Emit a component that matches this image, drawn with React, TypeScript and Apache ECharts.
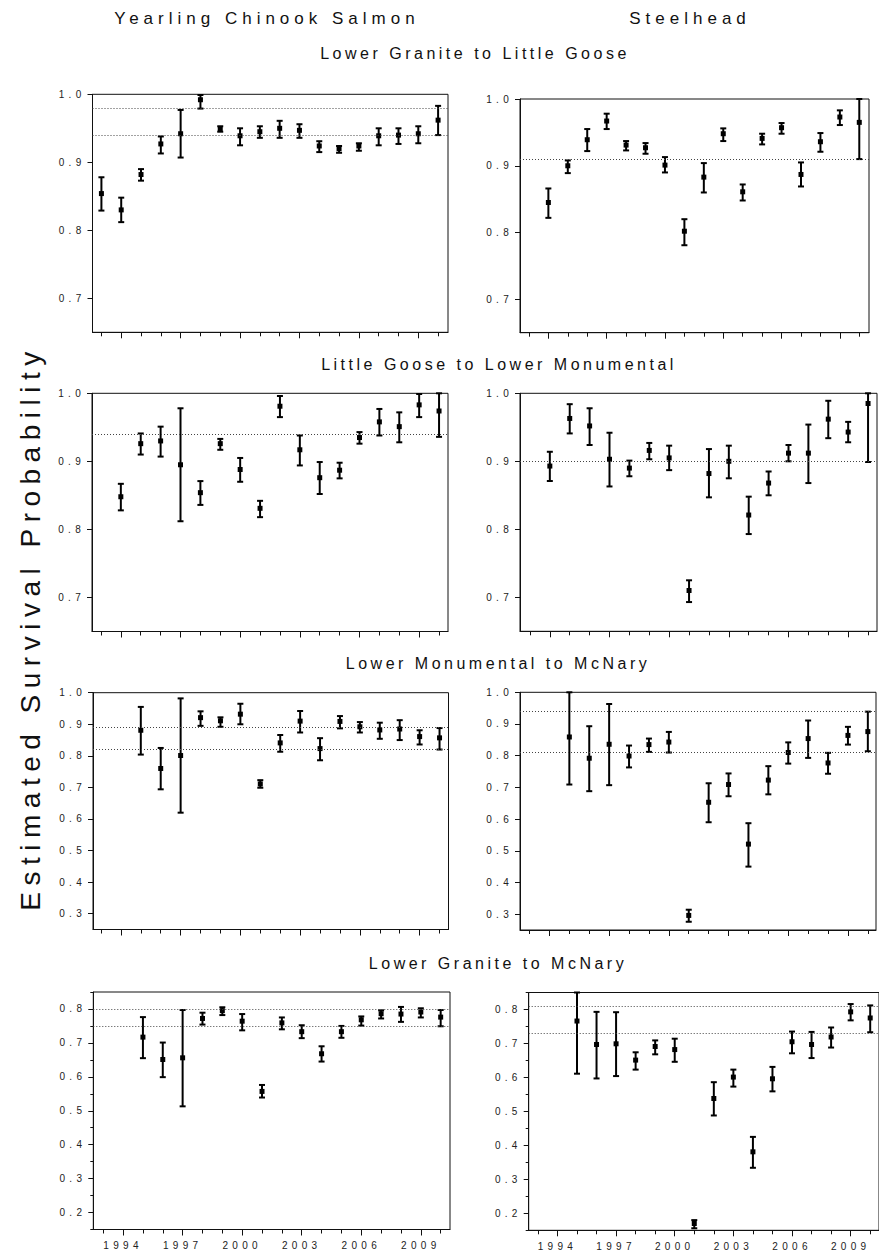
import React, { useEffect, useRef } from "react";
import * as echarts from "echarts";

// ---------- categories / ticks ----------
const YEARS_1993 = [1993, 1994, 1995, 1996, 1997, 1998, 1999, 2000, 2001, 2002, 2003, 2004, 2005, 2006, 2007, 2008, 2009, 2010];
const YEARS_1994 = [1994, 1995, 1996, 1997, 1998, 1999, 2000, 2001, 2002, 2003, 2004, 2005, 2006, 2007, 2008, 2009, 2010];
const YEARS_1995 = [1995, 1996, 1997, 1998, 1999, 2000, 2001, 2002, 2003, 2004, 2005, 2006, 2007, 2008, 2009, 2010];
const X_TICK_YEARS = YEARS_1993;
const X_LABEL_YEARS = [1994, 1997, 2000, 2003, 2006, 2009];

const Y_TICKS_TOP = [0.7, 0.8, 0.9, 1.0];
const Y_TICKS_MID = [0.3, 0.4, 0.5, 0.6, 0.7, 0.8, 0.9, 1.0];
const Y_TICKS_LOW = [0.2, 0.3, 0.4, 0.5, 0.6, 0.7, 0.8];
const Y_MINOR_LOW = [0.15, 0.25, 0.35, 0.45, 0.55, 0.65, 0.75, 0.85];

// ---------- titles ----------
const COLUMN_TITLES = ["Yearling Chinook Salmon", "Steelhead"];
const REACH_TITLES = [
  "Lower Granite to Little Goose",
  "Little Goose to Lower Monumental",
  "Lower Monumental to McNary",
  "Lower Granite to McNary",
];
const Y_TITLE = "Estimated Survival Probability";

// ---------- Lower Granite to Little Goose ----------
const chLgrLgoEst = [0.854, 0.830, 0.882, 0.927, 0.942, 0.992, 0.949, 0.939, 0.945, 0.950, 0.947, 0.924, 0.920, 0.924, 0.939, 0.940, 0.942, 0.962];
const chLgrLgoLo = [0.829, 0.812, 0.873, 0.913, 0.907, 0.979, 0.945, 0.925, 0.936, 0.936, 0.936, 0.915, 0.914, 0.917, 0.925, 0.927, 0.928, 0.940];
const chLgrLgoHi = [0.878, 0.848, 0.890, 0.938, 0.977, 0.999, 0.953, 0.950, 0.953, 0.961, 0.956, 0.931, 0.924, 0.928, 0.950, 0.950, 0.953, 0.983];
const chLgrLgoRef = [0.983, 0.940];

const stLgrLgoEst = [0.845, 0.900, 0.939, 0.967, 0.931, 0.927, 0.901, 0.802, 0.883, 0.948, 0.861, 0.941, 0.957, 0.887, 0.936, 0.973, 0.965];
const stLgrLgoLo = [0.822, 0.889, 0.922, 0.955, 0.923, 0.918, 0.890, 0.781, 0.860, 0.937, 0.848, 0.932, 0.948, 0.869, 0.921, 0.961, 0.910];
const stLgrLgoHi = [0.866, 0.908, 0.955, 0.978, 0.937, 0.934, 0.913, 0.820, 0.904, 0.956, 0.872, 0.948, 0.964, 0.905, 0.949, 0.983, 1.0];
const stLgrLgoRef = [0.910];

// ---------- Little Goose to Lower Monumental ----------
const chLgoLmnEst = [0.848, 0.926, 0.930, 0.895, 0.854, 0.926, 0.888, 0.831, 0.981, 0.917, 0.876, 0.887, 0.935, 0.958, 0.951, 0.983, 0.974];
const chLgoLmnLo = [0.828, 0.910, 0.907, 0.812, 0.836, 0.917, 0.870, 0.818, 0.965, 0.894, 0.852, 0.875, 0.926, 0.938, 0.928, 0.965, 0.936];
const chLgoLmnHi = [0.867, 0.941, 0.951, 0.978, 0.871, 0.933, 0.905, 0.842, 0.996, 0.938, 0.899, 0.898, 0.943, 0.977, 0.972, 0.999, 1.0];
const chLgoLmnRef = [0.936];

const stLgoLmnEst = [0.893, 0.963, 0.952, 0.903, 0.890, 0.916, 0.905, 0.710, 0.882, 0.900, 0.821, 0.868, 0.912, 0.912, 0.962, 0.943, 0.985];
const stLgoLmnLo = [0.871, 0.941, 0.924, 0.863, 0.878, 0.903, 0.887, 0.693, 0.847, 0.875, 0.793, 0.850, 0.900, 0.868, 0.934, 0.928, 0.899];
const stLgoLmnHi = [0.914, 0.984, 0.978, 0.942, 0.901, 0.927, 0.923, 0.725, 0.918, 0.923, 0.848, 0.885, 0.924, 0.954, 0.989, 0.958, 1.0];
const stLgoLmnRef = [0.898];

// ---------- Lower Monumental to McNary ----------
const chLmnMcnEst = [0.881, 0.760, 0.801, 0.921, 0.911, 0.932, 0.711, 0.841, 0.910, 0.823, 0.909, 0.892, 0.882, 0.885, 0.861, 0.857];
const chLmnMcnLo = [0.804, 0.694, 0.620, 0.895, 0.892, 0.900, 0.699, 0.813, 0.874, 0.786, 0.887, 0.874, 0.854, 0.850, 0.836, 0.820];
const chLmnMcnHi = [0.955, 0.825, 0.982, 0.941, 0.922, 0.965, 0.723, 0.866, 0.942, 0.856, 0.926, 0.907, 0.905, 0.913, 0.881, 0.888];
const chLmnMcnRef = [0.887, 0.820];

const stLmnMcnEst = [0.859, 0.792, 0.836, 0.799, 0.835, 0.843, 0.296, 0.653, 0.709, 0.521, 0.723, 0.810, 0.854, 0.777, 0.864, 0.876];
const stLmnMcnLo = [0.709, 0.688, 0.707, 0.763, 0.812, 0.810, 0.276, 0.590, 0.672, 0.450, 0.678, 0.775, 0.793, 0.743, 0.835, 0.814];
const stLmnMcnHi = [1.0, 0.893, 0.963, 0.832, 0.854, 0.875, 0.314, 0.713, 0.744, 0.587, 0.767, 0.842, 0.911, 0.809, 0.891, 0.939];
const stLmnMcnRef = [0.938, 0.814];

// ---------- Lower Granite to McNary ----------
const chLgrMcnEst = [0.717, 0.651, 0.656, 0.772, 0.795, 0.764, 0.557, 0.759, 0.733, 0.668, 0.733, 0.768, 0.786, 0.785, 0.791, 0.776];
const chLgrMcnLo = [0.655, 0.599, 0.513, 0.754, 0.782, 0.737, 0.539, 0.740, 0.714, 0.645, 0.715, 0.751, 0.772, 0.762, 0.775, 0.749];
const chLgrMcnHi = [0.776, 0.701, 0.797, 0.789, 0.805, 0.785, 0.576, 0.775, 0.752, 0.690, 0.750, 0.778, 0.796, 0.806, 0.802, 0.797];
const chLgrMcnRef = [0.797, 0.749];

const stLgrMcnEst = [0.766, 0.697, 0.699, 0.651, 0.691, 0.682, 0.170, 0.538, 0.601, 0.381, 0.596, 0.705, 0.697, 0.719, 0.793, 0.775];
const stLgrMcnLo = [0.611, 0.597, 0.604, 0.623, 0.668, 0.646, 0.156, 0.488, 0.573, 0.334, 0.559, 0.671, 0.657, 0.688, 0.768, 0.733];
const stLgrMcnHi = [0.85, 0.793, 0.792, 0.674, 0.709, 0.714, 0.180, 0.586, 0.623, 0.425, 0.631, 0.735, 0.734, 0.747, 0.816, 0.812];
const stLgrMcnRef = [0.812, 0.732];

const FONT = "Liberation Sans, Arial, sans-serif";

type Panel = {
  years: number[];
  est: number[];
  lo: number[];
  hi: number[];
  ref: number[];
  box: [number, number, number, number]; // left, top, right, bottom (px)
  xMin: number;
  xMax: number;
  yMin: number;
  yMax: number;
  yTicks: number[];
  yMinor?: number[];
  xLabels: boolean;
};

const PANELS: Panel[] = [
  { years: YEARS_1993, est: chLgrLgoEst, lo: chLgrLgoLo, hi: chLgrLgoHi, ref: chLgrLgoRef, box: [92.5, 94.3, 448, 332.3], xMin: 1992.55, xMax: 2010.5, yMin: 0.65, yMax: 1.0, yTicks: Y_TICKS_TOP, xLabels: false },
  { years: YEARS_1994, est: stLgrLgoEst, lo: stLgrLgoLo, hi: stLgrLgoHi, ref: stLgrLgoRef, box: [520, 99, 869, 332.7], xMin: 1992.54, xMax: 2010.5, yMin: 0.65, yMax: 1.0, yTicks: Y_TICKS_TOP, xLabels: false },
  { years: YEARS_1994, est: chLgoLmnEst, lo: chLgoLmnLo, hi: chLgoLmnHi, ref: chLgoLmnRef, box: [92, 393.3, 448, 631.5], xMin: 1992.55, xMax: 2010.45, yMin: 0.65, yMax: 1.0, yTicks: Y_TICKS_TOP, xLabels: false },
  { years: YEARS_1994, est: stLgoLmnEst, lo: stLgoLmnLo, hi: stLgoLmnHi, ref: stLgoLmnRef, box: [520, 393.3, 877, 631.3], xMin: 1992.5, xMax: 2010.45, yMin: 0.65, yMax: 1.0, yTicks: Y_TICKS_TOP, xLabels: false },
  { years: YEARS_1995, est: chLmnMcnEst, lo: chLmnMcnLo, hi: chLmnMcnHi, ref: chLmnMcnRef, box: [93, 692.7, 448.5, 929.5], xMin: 1992.6, xMax: 2010.45, yMin: 0.25, yMax: 1.0, yTicks: Y_TICKS_MID, xLabels: false },
  { years: YEARS_1995, est: stLmnMcnEst, lo: stLmnMcnLo, hi: stLmnMcnHi, ref: stLmnMcnRef, box: [520, 692.3, 876, 930], xMin: 1992.52, xMax: 2010.41, yMin: 0.25, yMax: 1.0, yTicks: Y_TICKS_MID, xLabels: false },
  { years: YEARS_1995, est: chLgrMcnEst, lo: chLgrMcnLo, hi: chLgrMcnHi, ref: chLgrMcnRef, box: [93.3, 992, 450, 1229.5], xMin: 1992.5, xMax: 2010.47, yMin: 0.15, yMax: 0.85, yTicks: Y_TICKS_LOW, yMinor: Y_MINOR_LOW, xLabels: true },
  { years: YEARS_1995, est: stLgrMcnEst, lo: stLgrMcnLo, hi: stLgrMcnHi, ref: stLgrMcnRef, box: [528.7, 992.5, 885, 1230.3], xMin: 1992.53, xMax: 2010.45, yMin: 0.15, yMax: 0.85, yTicks: Y_TICKS_LOW, yMinor: Y_MINOR_LOW, xLabels: true },
];

function buildOption() {
  const grid: any[] = [];
  const xAxis: any[] = [];
  const yAxis: any[] = [];
  const series: any[] = [];

  PANELS.forEach((p, i) => {
    const [l, t, r, b] = p.box;
    grid.push({
      left: l,
      top: t,
      width: r - l,
      height: b - t,
      show: true,
      borderColor: "#111",
      borderWidth: 1,
      backgroundColor: "transparent",
    });
    const xMain = xAxis.length;
    xAxis.push({
      type: "value",
      gridIndex: i,
      min: p.xMin,
      max: p.xMax,
      position: "bottom",
      axisLine: { show: true, onZero: false, lineStyle: { color: "#111", width: 1 } },
      axisTick: { show: true, length: 4, customValues: X_TICK_YEARS, lineStyle: { color: "#111", width: 1 } },
      axisLabel: { show: false },
      splitLine: { show: false },
    });
    xAxis.push({
      type: "value",
      gridIndex: i,
      min: p.xMin,
      max: p.xMax,
      position: "bottom",
      axisLine: { show: false, onZero: false },
      axisTick: { show: true, length: 6, customValues: X_LABEL_YEARS, lineStyle: { color: "#111", width: 1 } },
      axisLabel: {
        show: p.xLabels,
        customValues: X_LABEL_YEARS,
        formatter: (v: number) => String(Math.round(v)),
        fontSize: 10,
        fontFamily: FONT,
        color: "#222",
        margin: 11,
      },
      splitLine: { show: false },
    });
    const yMain = yAxis.length;
    yAxis.push({
      type: "value",
      gridIndex: i,
      min: p.yMin,
      max: p.yMax,
      position: "left",
      axisLine: { show: true, onZero: false, lineStyle: { color: "#111", width: 1 } },
      axisTick: { show: true, length: 5, customValues: p.yTicks, lineStyle: { color: "#111", width: 1 } },
      axisLabel: {
        show: true,
        customValues: p.yTicks,
        formatter: (v: number) => v.toFixed(1),
        fontSize: 10,
        fontFamily: FONT,
        color: "#222",
        margin: 7,
      },
      splitLine: { show: false },
    });
    if (p.yMinor) {
      yAxis.push({
        type: "value",
        gridIndex: i,
        min: p.yMin,
        max: p.yMax,
        position: "left",
        offset: 0,
        axisLine: { show: false, onZero: false },
        axisTick: { show: true, length: 3, customValues: p.yMinor, lineStyle: { color: "#111", width: 1 } },
        axisLabel: { show: false },
        splitLine: { show: false },
      });
    }
    series.push({
      type: "custom",
      xAxisIndex: xMain,
      yAxisIndex: yMain,
      silent: true,
      clip: false,
      data: p.years.map((yr, k) => [yr, p.est[k], p.lo[k], p.hi[k]]),
      encode: { x: 0, y: [1, 2, 3] },
      renderItem: (params: any, api: any) => {
        const x = api.value(0);
        const c = api.coord([x, api.value(1)]);
        const lo = api.coord([x, api.value(2)]);
        const hi = api.coord([x, api.value(3)]);
        const cap = 3;
        const st = { stroke: "#000", lineWidth: 2 };
        return {
          type: "group",
          children: [
            { type: "line", shape: { x1: hi[0], y1: hi[1], x2: lo[0], y2: lo[1] }, style: st },
            { type: "line", shape: { x1: hi[0] - cap, y1: hi[1], x2: hi[0] + cap, y2: hi[1] }, style: st },
            { type: "line", shape: { x1: lo[0] - cap, y1: lo[1], x2: lo[0] + cap, y2: lo[1] }, style: st },
            { type: "rect", shape: { x: c[0] - 2.5, y: c[1] - 2.5, width: 5, height: 5 }, style: { fill: "#000" } },
          ],
        };
      },
      markLine: {
        silent: true,
        symbol: "none",
        label: { show: false },
        lineStyle: { type: [1, 2], color: "#444", width: 1 },
        data: p.ref.map((v) => ({ yAxis: v })),
      },
      z: 3,
    });
  });

  const txt = (text: string, x: number, y: number, size: number, rotation = 0) => ({
    type: "text",
    x,
    y,
    rotation,
    silent: true,
    style: {
      text,
      x: 0,
      y: 0,
      fill: "#111",
      fontSize: size,
      fontFamily: FONT,
      textAlign: "center",
      textVerticalAlign: "middle",
    },
  });

  const graphic = [
    txt(COLUMN_TITLES[0], 267, 18, 17),
    txt(COLUMN_TITLES[1], 690, 18, 17),
    txt(REACH_TITLES[0], 475, 53, 16),
    txt(REACH_TITLES[1], 499, 364, 16),
    txt(REACH_TITLES[2], 498, 663, 16),
    txt(REACH_TITLES[3], 498, 963, 16),
    txt(Y_TITLE, 30, 628, 28, Math.PI / 2),
  ];

  return {
    animation: false,
    backgroundColor: "#fff",
    grid,
    xAxis,
    yAxis,
    series,
    graphic,
  };
}

export default function App() {
  const ref = useRef<HTMLDivElement>(null);
  useEffect(() => {
    const el = ref.current!;
    const chart = echarts.init(el, null, { renderer: "svg" });
    chart.setOption(buildOption() as any);
    const apply = () => {
      el.querySelectorAll("text").forEach((t: any) => {
        const fs = parseFloat(window.getComputedStyle(t).fontSize || "0");
        let ls = 0;
        if (fs <= 11) ls = 4.3;
        else if (fs <= 16) ls = 3.5;
        else if (fs <= 18) ls = 5;
        else ls = 6.5;
        t.style.letterSpacing = ls + "px";
      });
    };
    apply();
    chart.on("rendered", apply);
    chart.on("finished", apply);
    const tm = setTimeout(apply, 30);
    return () => {
      clearTimeout(tm);
      chart.dispose();
    };
  }, []);
  return (
    <div
      ref={ref}
      style={{ position: "absolute", left: 0, top: 0, width: 879, height: 1259, background: "#fff" }}
    />
  );
}
